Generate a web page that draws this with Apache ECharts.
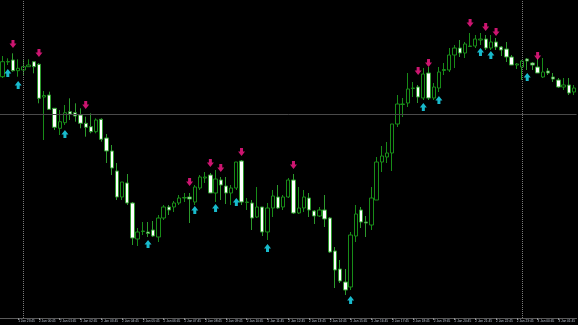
<!DOCTYPE html>
<html><head><meta charset="utf-8">
<script src="https://cdn.jsdelivr.net/npm/echarts/dist/echarts.min.js"></script>
<style>html,body{margin:0;padding:0;background:#000}#c{width:578px;height:325px}</style>
</head><body><div id="c"></div>
<script>
// M15 bars, prices in points (no price scale visible in the reference)
const opens  = [253.3,268,270,259.3,260,263.3,268.3,265.7,233,235,221.7,201.7,207.3,218.3,217.3,215,206.7,203.3,198.3,210.7,
192,179,159,133,147,127,91,98.5,98,100,93,112,123,123,127,132,133,128,142,152,
155,137,150,144,137,142,169,127.5,127,113,123,98,122,133,123,133,150,117,122,132,
119,114,120,112,79,61,48,43,94,120,108,105,130,168,173,177,206,225.5,227,241.5,
243,232,257,232,242,259.5,260,275,282,277,283.5,284,290,291,282,288,283,281,273,265,
263,271,267,263,253,259,253,250,243,245,238];
const closes = [268.3,268.5,259.3,261.7,263.3,265,263.3,231.7,234.5,220.7,202.7,208.3,217.3,216,214,206.7,202.7,198.3,210,190.7,
179,162,133,148,127,92,98,99,96.5,94,112,123,120,127,132,132.5,131,143,153,153,
137,151,145,137,142,168,128,128,112,123,98,122,134,122,133,150,117,122,133,120,
114,120,111,78,60,49,40,95,116,108,107,132,168,174,177,206,226,226,241,242,
233,256,232,243,258,260.5,275,282,277,286,284,291,291,282,288,283,280,273,265,266,
269,269,265,257,258,257,251,243,245,237,242];
const lows   = [252,265,258.3,253.3,255,263.3,256.7,226.7,190,220.7,200,195,205,210,208.3,201.7,193.3,196.7,196.7,188.3,
167,155,130,130,125,85,84,95,93,93,88,110,115,118,125,128,107,125,140,147,
137,128,130,126,125,140,125,120,100,112,94,90,113,121,120,132,116,116,118,113,
106,113,103,77,42,47,35,40,88,102,93,100,130,158,167,159,203,213,223,233,
227,230,230,230,238,255,258,262,273,272,283,282,285,280,280,280,274,268,265,261,
250,260,260,257,252,255,248,242,240,235,235];
const highs  = [274,271.7,276.7,270.7,270.7,270.7,268.3,266.7,239,238.3,221.7,220,225,231.7,226.7,221.7,213.3,216.7,211.7,211.7,
196,185,167,148,156,128,102,108,108,109,115,125,125,129,135,137,137,145,155,158,
157,160,153,153,145,168,170,132,130,143,123,127,140,145,135,152,156,143,140,137,
120,123,135,113,83,70,61,98,125,123,114,143,173,184,188,206,235,232,257,248,
245,262,263,247,263,267,282,285,290,288,297,295,297,295,295,292,284,288,275,267,
270,272,268,272,272,262,257,252,252,252,245];

// signal arrows: bar index and level
const sellIdx = [2,7,16,36,40,42,46,56,80,82,90,93,95,103];
const sellVal = [286,277,225,148,167,162,178,165,259,267,307,303,298,274];
const buyIdx  = [1,3,12,28,37,41,45,51,67,81,84,92,94,101];
const buyVal  = [257,245,196,86,120,122,128,82,30,223,230,278,275,253];

const hLineLevel = 215.7;
const separatorIdx = [4,100];

// time labels (15-minute bars, day starts at bar 4)
const categories = [];
for (let i = 0; i < opens.length; i++) {
  const m = (i - 4) * 15;
  const day = 2 + Math.floor(m / 1440);
  const mm = ((m % 1440) + 1440) % 1440;
  const h = Math.floor(mm / 60), mi = mm % 60;
  categories.push(day + ' Jan ' + String(h).padStart(2,'0') + ':' + String(mi).padStart(2,'0'));
}

const candleData = opens.map((o, i) => [o, closes[i], lows[i], highs[i]]);
const sellData = sellIdx.map((k, i) => [categories[k], sellVal[i]]);
const buyData = buyIdx.map((k, i) => [categories[k], buyVal[i]]);
const showLbl = (idx) => idx % 4 === 3;

const chart = echarts.init(document.getElementById('c'), null, {renderer: 'canvas'});
chart.setOption({
  backgroundColor: '#000000',
  animation: false,
  grid: {left: -1, right: -3, top: 0, bottom: 7},
  xAxis: {
    type: 'category', data: categories, boundaryGap: true,
    axisLine: {show: true, lineStyle: {color: '#5a5a5a', width: 1}},
    axisTick: {show: true, interval: (i) => showLbl(i), alignWithLabel: true, length: 2, lineStyle: {color: '#8a8a8a'}},
    axisLabel: {show: true, interval: (i) => showLbl(i), fontSize: 3.2, color: '#b8c0d0', align: 'left', margin: 1.5, fontFamily: 'Liberation Sans'},
    splitLine: {show: false}
  },
  yAxis: {type: 'value', min: 12, max: 330, show: false, splitLine: {show: false}},
  series: [
    {
      type: 'candlestick', data: candleData, barWidth: 3.8,
      itemStyle: {color: '#000000', color0: '#ffffff', borderColor: '#188c18', borderColor0: '#2c9a2c', borderWidth: 1},
      markLine: {
        silent: true, symbol: ['none','none'], label: {show: false}, animation: false,
        data: [
          ...separatorIdx.map(k => ({xAxis: categories[k], lineStyle: {color: '#7a7a7a', type: 'dotted', width: 1}})),
          {yAxis: hLineLevel, lineStyle: {color: '#4a4a4a', type: 'solid', width: 1}}
        ]
      }
    },
    {
      type: 'scatter', data: sellData, z: 5,
      symbol: 'path://M2,0 L5,0 L5,3.5 L7,3.5 L3.5,8 L0,3.5 L2,3.5 Z', symbolSize: [7, 8],
      itemStyle: {color: '#ff1a8c'}
    },
    {
      type: 'scatter', data: buyData, z: 5,
      symbol: 'path://M3.5,0 L7,4.5 L5,4.5 L5,8 L2,8 L2,4.5 L0,4.5 Z', symbolSize: [7, 8],
      itemStyle: {color: '#1ee8ff'}
    }
  ]
});
</script></body></html>
